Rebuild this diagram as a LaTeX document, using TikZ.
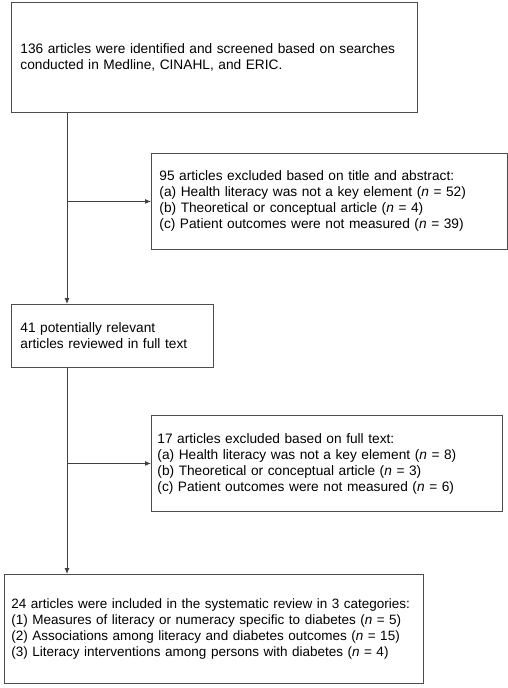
\documentclass[tikz,border=0pt]{standalone}
\usepackage{fontspec}
\setmainfont{Liberation Sans}
\usetikzlibrary{arrows.meta}
\tikzset{
    flowbox/.style = {draw=black!70, line width=0.9pt, align=left, anchor=north west, inner xsep=8pt, inner ysep=0pt, font=\fontsize{13.7}{16}\selectfont},
    flowline/.style = {draw=black!75, line width=0.9pt}
}

\begin{document}
\begin{tikzpicture}[>={Latex[length=6pt,width=5pt]}, x=1pt, y=1pt]
                \useasboundingbox (0,0) rectangle (508,-688);
                \coordinate (trunk) at (67,0);
                \node [flowbox, inner xsep=9pt, text width=388pt, minimum height=110pt] (ident) at (11,-2)
                    {136 articles were identified and screened based on searches\\conducted in Medline, CINAHL, and ERIC.}; % TOP
                \node [flowbox, text width=340pt, minimum height=96pt] (exclA) at (151,-153)
                    {95 articles excluded based on title and abstract:\\
                     (a) Health literacy was not a key element (\textit{n} = 52)\\
                     (b) Theoretical or conceptual article (\textit{n} = 4)\\
                     (c) Patient outcomes were not measured (\textit{n} = 39)};
                \node [flowbox, inner xsep=9pt, text width=184pt, minimum height=63pt] (fulltext) at (11,-304)
                    {41 potentially relevant\\articles reviewed in full text};
                \node [flowbox, inner xsep=6pt, text width=339pt, minimum height=96pt] (exclB) at (151,-415)
                    {17 articles excluded based on full text:\\
                     (a) Health literacy was not a key element (\textit{n} = 8)\\
                     (b) Theoretical or conceptual article (\textit{n} = 3)\\
                     (c) Patient outcomes were not measured (\textit{n} = 6)};
                \node [flowbox, inner xsep=7pt, text width=405pt, minimum height=109pt, font=\fontsize{13.5}{16}\selectfont] (included) at (4,-574)
                    {\hyphenpenalty=10000\relax
                     24 articles were included in the systematic review in 3 categories:\\
                     (1) Measures of literacy or numeracy specific to diabetes (\textit{n} = 5)\\
                     (2) Associations among literacy and diabetes outcomes (\textit{n} = 15)\\
                     (3) Literacy interventions among persons with diabetes (\textit{n} = 4)}; % BOTTOM
                \draw [flowline, ->] (ident.south -| trunk) -- (fulltext.north -| trunk);
                \draw [flowline, ->] (exclA.west -| trunk) -- (exclA.west);
                \draw [flowline, ->] (fulltext.south -| trunk) -- (included.north -| trunk);
                \draw [flowline, ->] (exclB.west -| trunk) -- (exclB.west);
            \end{tikzpicture}
\end{document}
